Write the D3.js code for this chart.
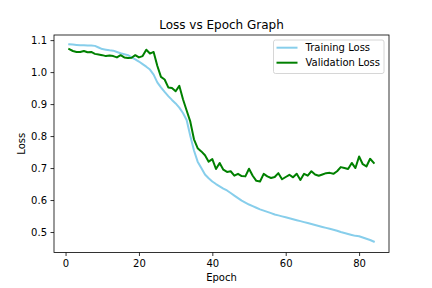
<!DOCTYPE html>
<html>
<head>
<meta charset="utf-8">
<script src="https://cdn.jsdelivr.net/npm/d3@7"></script>
<style>
  body { margin: 0; background: #fff; }
  text { font-family: "DejaVu Sans", sans-serif; fill: #000; }
</style>
</head>
<body>
<svg id="chart"></svg>
<script>
// svg size
const width = 432;
const height = 288;

// data
const epochs = d3.range(1, 85);
const trainLoss = [
    1.087, 1.086, 1.085, 1.084, 1.084, 1.083, 1.083, 1.082, 1.077, 1.072,
    1.070, 1.068, 1.067, 1.063, 1.059, 1.056, 1.053, 1.046, 1.040, 1.033,
    1.025, 1.017, 1.008, 0.992, 0.968, 0.952, 0.938, 0.925, 0.913, 0.902,
    0.889, 0.872, 0.850, 0.800, 0.755, 0.720, 0.700, 0.680, 0.668, 0.658,
    0.650, 0.643, 0.636, 0.630, 0.622, 0.614, 0.606, 0.598, 0.592, 0.586,
    0.581, 0.576, 0.571, 0.567, 0.563, 0.559, 0.555, 0.552, 0.549, 0.546,
    0.543, 0.540, 0.537, 0.534, 0.531, 0.528, 0.525, 0.522, 0.519, 0.516,
    0.513, 0.510, 0.507, 0.504, 0.500, 0.497, 0.494, 0.491, 0.488, 0.487,
    0.483, 0.479, 0.475, 0.470
];
const valLoss = [
    1.072, 1.066, 1.063, 1.063, 1.066, 1.062, 1.063, 1.057, 1.055, 1.053,
    1.050, 1.052, 1.050, 1.046, 1.053, 1.046, 1.044, 1.045, 1.053, 1.046,
    1.050, 1.070, 1.058, 1.063, 1.020, 0.985, 0.977, 0.952, 0.950, 0.940,
    0.957, 0.915, 0.880, 0.845, 0.790, 0.762, 0.752, 0.740, 0.720, 0.728,
    0.697, 0.716, 0.695, 0.688, 0.690, 0.676, 0.682, 0.675, 0.674, 0.698,
    0.676, 0.660, 0.658, 0.682, 0.674, 0.669, 0.672, 0.684, 0.665, 0.672,
    0.679, 0.671, 0.682, 0.663, 0.682, 0.676, 0.690, 0.680, 0.676, 0.680,
    0.684, 0.685, 0.682, 0.690, 0.703, 0.700, 0.697, 0.716, 0.700, 0.736,
    0.712, 0.705, 0.729, 0.716
];
const series = [
    { name: "Training Loss", values: trainLoss, color: "#87ceeb" },
    { name: "Validation Loss", values: valLoss, color: "#008000" }
];
const xTicks = [0, 20, 40, 60, 80];
const yTicks = [0.5, 0.6, 0.7, 0.8, 0.9, 1.0, 1.1];

// plot area
const plotLeft = 54, plotRight = 389, plotTop = 35, plotBottom = 252.5;

const svg = d3.select("#chart")
    .attr("width", width)
    .attr("height", height);

const xScale = d3.scaleLinear()
    .domain([-3.15, 88.15])
    .range([plotLeft, plotRight]);

const yScale = d3.scaleLinear()
    .domain([0.436, 1.116])
    .range([plotBottom, plotTop]);

// axes
svg.append("g")
    .attr("transform", `translate(0,${plotBottom})`)
    .call(d3.axisBottom(xScale).tickValues(xTicks).tickSize(3.5).tickPadding(3.5).tickFormat(d3.format("d")))
    .call(g => g.select(".domain").remove())
    .call(g => g.selectAll("line").attr("stroke", "#000").attr("stroke-width", 0.8))
    .call(g => g.selectAll("text").attr("font-size", 10).attr("font-family", "DejaVu Sans"));

svg.append("g")
    .attr("transform", `translate(${plotLeft},0)`)
    .call(d3.axisLeft(yScale).tickValues(yTicks).tickSize(3.5).tickPadding(3.5).tickFormat(d3.format(".1f")))
    .call(g => g.select(".domain").remove())
    .call(g => g.selectAll("line").attr("stroke", "#000").attr("stroke-width", 0.8))
    .call(g => g.selectAll("text").attr("font-size", 10).attr("font-family", "DejaVu Sans"));

// lines
const line = d3.line()
    .x((d, i) => xScale(epochs[i]))
    .y(d => yScale(d));

svg.selectAll("path.series")
    .data(series)
    .enter()
    .append("path")
    .attr("class", "series")
    .attr("d", d => line(d.values))
    .attr("fill", "none")
    .attr("stroke", d => d.color)
    .attr("stroke-width", 2)
    .attr("stroke-linejoin", "round")
    .attr("stroke-linecap", "square");

// frame
svg.append("rect")
    .attr("x", plotLeft)
    .attr("y", plotTop)
    .attr("width", plotRight - plotLeft)
    .attr("height", plotBottom - plotTop)
    .attr("fill", "none")
    .attr("stroke", "#000")
    .attr("stroke-width", 0.8);

// title and labels
svg.append("text")
    .attr("x", (plotLeft + plotRight) / 2)
    .attr("y", 29)
    .attr("text-anchor", "middle")
    .attr("font-size", 12)
    .text("Loss vs Epoch Graph");

svg.append("text")
    .attr("x", (plotLeft + plotRight) / 2)
    .attr("y", 281)
    .attr("text-anchor", "middle")
    .attr("font-size", 10)
    .text("Epoch");

svg.append("text")
    .attr("transform", `translate(25,${(plotTop + plotBottom) / 2}) rotate(-90)`)
    .attr("text-anchor", "middle")
    .attr("font-size", 10)
    .text("Loss");

// legend
const legend = svg.append("g").attr("transform", "translate(273.5,40)");
legend.append("rect")
    .attr("width", 110.5)
    .attr("height", 33.5)
    .attr("rx", 2)
    .attr("fill", "#fff")
    .attr("fill-opacity", 0.8)
    .attr("stroke", "#ccc")
    .attr("stroke-width", 0.8);

const item = legend.selectAll("g.item")
    .data(series)
    .enter()
    .append("g")
    .attr("class", "item")
    .attr("transform", (d, i) => `translate(0,${7.7 + i * 15})`);

item.append("line")
    .attr("x1", 3)
    .attr("x2", 24)
    .attr("stroke", d => d.color)
    .attr("stroke-width", 2);

item.append("text")
    .attr("x", 32)
    .attr("y", 3.5)
    .attr("font-size", 10)
    .text(d => d.name);
</script>
</body>
</html>
